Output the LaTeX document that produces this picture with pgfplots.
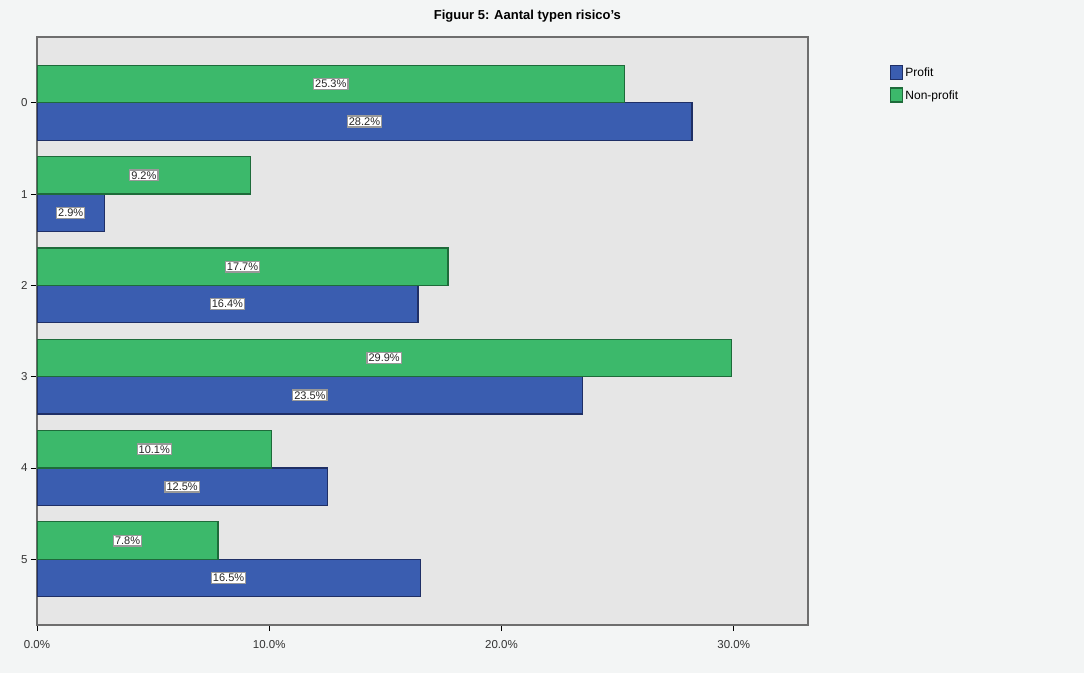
\documentclass[border=0pt]{standalone}
\usepackage{pgfplots}
\usepackage{pgfplotstable}
\pgfplotsset{compat=1.18}
\usepackage{fontspec}
\setmainfont{Liberation Sans}

\definecolor{pageback}{HTML}{F3F5F5}
\definecolor{plotback}{HTML}{E6E6E6}
\definecolor{profitblue}{HTML}{3A5DB0}
\definecolor{profitedge}{HTML}{1F2F66}
\definecolor{npgreen}{HTML}{3CB96B}
\definecolor{npedge}{HTML}{1E6B3A}
\definecolor{frame}{HTML}{6E6E6E}

% share of organisations by number of risk types
\pgfplotstableread{
cat profit nonprofit
0 28.2 25.3
1 2.9 9.2
2 16.4 17.7
3 23.5 29.9
4 12.5 10.1
5 16.5 7.8
}\risico

\begin{document}
\begin{tikzpicture}[x=1pt,y=1pt]
\fill[pageback] (0,0) rectangle (1084,673);
\begin{axis}[
  at={(37pt,48pt)}, anchor=south west,
  scale only axis, width=771pt, height=588pt,
  xbar, bar width=0.41,
  xmin=0, xmax=33.2,
  ymin=-0.72, ymax=5.72, y dir=reverse,
  ytick={0,1,2,3,4,5},
  xtick={0,10,20,30},
  xticklabels={0.0\%,10.0\%,20.0\%,30.0\%},
  tick align=outside, major tick length=6pt,
  xtick pos=bottom, ytick pos=left,
  tick style={black, line width=0.8pt},
  axis background/.style={fill=plotback},
  axis line style={frame, line width=1.6pt},
  ticklabel style={font=\fontsize{11.5}{13}\selectfont, text=black!80},
  xticklabel style={yshift=-6pt},
  /pgf/number format/assume math mode=true,
  title={\bfseries Figuur 5: Aantal typen risico's},
  title style={at={(rel axis cs:0.636,1)}, anchor=center, yshift=15pt,
    font=\fontsize{13}{15}\selectfont},
  legend style={at={(rel axis cs:1.105,0.955)}, anchor=north west,
    draw=none, fill=none, font=\fontsize{12}{14}\selectfont,
    row sep=7pt, inner sep=1pt},
  legend cell align=left,
  legend image code/.code={\draw[#1] (0pt,-6pt) rectangle (12pt,8pt);},
  nodes near coords={\pgfmathprintnumber[fixed,fixed zerofill,precision=1]{\pgfplotspointmeta}\%},
  every node near coord/.append style={anchor=center,
    shift={(axis direction cs:\halfx,0)},
    fill=white, draw=black!40, inner sep=1.5pt,
    font=\fontsize{11}{13}\selectfont, text=black!85},
]
\addplot[fill=profitblue, draw=profitedge, line width=1.3pt, bar shift=0.205,
  visualization depends on={-0.5*\thisrow{profit} \as \halfx}]
  table[x=profit, y=cat] {\risico};
\addlegendentry{Profit}
\addplot[fill=npgreen, draw=npedge, line width=1.3pt, bar shift=-0.205,
  visualization depends on={-0.5*\thisrow{nonprofit} \as \halfx}]
  table[x=nonprofit, y=cat] {\risico};
\addlegendentry{Non-profit}
\end{axis}
\end{tikzpicture}
\end{document}
